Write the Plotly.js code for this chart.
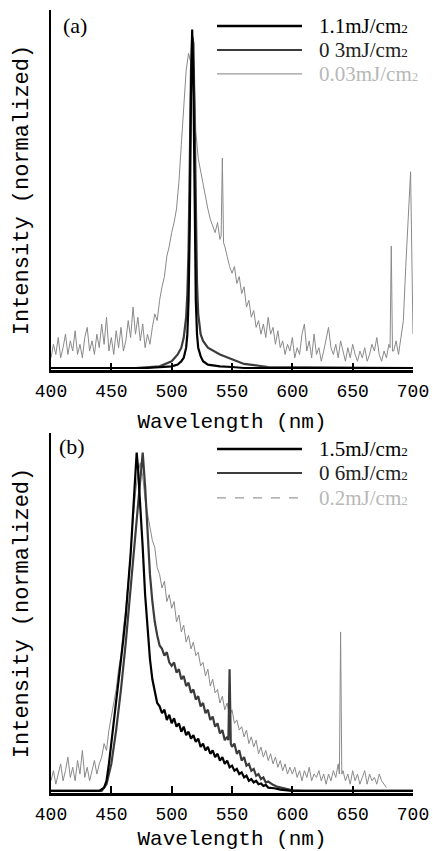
<!DOCTYPE html>
<html>
<head>
<meta charset="utf-8">
<script src="https://cdn.plot.ly/plotly-3.0.1.min.js"></script>
<style>html,body{margin:0;padding:0;background:#fff;}#chart{width:433px;height:851px;}</style>
</head>
<body>
<div id="chart"></div>
<script>
// ---------- Panel (a) ----------
const wlA1 = [400,480,500,505,508,510,512,513,514,515,516,517,518,519,520,521,522,524,526,530,540,550,560,600,700];
const a1   = [0,0,0.005,0.01,0.02,0.03,0.06,0.1,0.2,0.42,0.8,1.0,0.85,0.45,0.2,0.1,0.06,0.035,0.02,0.01,0.005,0.003,0,0,0];

const wlA2 = [400,470,490,500,505,508,510,512,513,514,515,516,517,518,519,520,521,522,524,526,530,540,550,560,580,700];
const a2   = [0,0,0.005,0.02,0.04,0.06,0.09,0.15,0.22,0.35,0.6,0.88,0.98,0.96,0.75,0.45,0.25,0.16,0.1,0.08,0.06,0.04,0.025,0.012,0.003,0];

const wlA3 = [400,402,404,406,408,410,412,414,416,418,420,422,424,426,428,430,432,434,436,438,440,442,444,446,448,450,452,454,456,458,460,462,464,466,468,470,472,474,476,478,480,482,484,486,488,490,492,494,496,498,500,502,504,506,508,510,512,514,516,518,520,522,524,526,528,530,532,534,536,538,540,541,542,543,544,546,548,550,552,554,556,558,560,562,564,566,568,570,572,574,576,578,580,582,584,586,588,590,592,594,596,598,600,602,604,606,608,610,612,614,616,618,620,622,624,626,628,630,632,634,636,638,640,642,644,646,648,650,652,654,656,658,660,662,664,666,668,670,672,674,676,678,680,681,682,683,684,686,688,690,692,694,696,698,700];
const a3   = [0.03,0.07,0.04,0.09,0.03,0.06,0.1,0.04,0.08,0.05,0.11,0.04,0.07,0.03,0.09,0.12,0.05,0.08,0.04,0.1,0.06,0.13,0.07,0.15,0.05,0.09,0.04,0.11,0.06,0.12,0.05,0.08,0.14,0.09,0.18,0.1,0.15,0.08,0.13,0.06,0.1,0.07,0.12,0.16,0.14,0.2,0.24,0.27,0.33,0.36,0.4,0.43,0.47,0.55,0.66,0.78,0.88,0.93,0.9,0.94,0.7,0.62,0.58,0.55,0.5,0.47,0.44,0.42,0.4,0.43,0.38,0.39,0.62,0.37,0.36,0.33,0.3,0.28,0.3,0.25,0.27,0.22,0.24,0.18,0.2,0.15,0.17,0.12,0.14,0.1,0.13,0.09,0.15,0.1,0.12,0.07,0.11,0.06,0.08,0.04,0.07,0.05,0.09,0.03,0.06,0.04,0.1,0.13,0.05,0.08,0.03,0.1,0.04,0.06,0.02,0.05,0.09,0.12,0.06,0.04,0.07,0.03,0.08,0.05,0.02,0.06,0.03,0.07,0.04,0.02,0.05,0.03,0.06,0.02,0.04,0.07,0.05,0.09,0.04,0.02,0.05,0.03,0.07,0.06,0.36,0.05,0.05,0.08,0.04,0.09,0.14,0.3,0.45,0.58,0.1];

// ---------- Panel (b) ----------
const wlB1 = [400,440,444,446,448,450,452,454,456,458,460,462,464,466,468,470,471,472,474,476,478,480,482,484,486,488,490,492,494,496,498,500,502,504,506,508,510,512,514,516,518,520,522,524,526,528,530,532,534,536,538,540,542,544,546,548,550,552,554,556,558,560,562,564,566,568,570,572,574,576,578,580,585,590,600,700];
const b1   = [0,0,0.01,0.03,0.08,0.14,0.2,0.26,0.32,0.38,0.45,0.52,0.6,0.7,0.82,0.95,1.0,0.96,0.85,0.72,0.58,0.47,0.39,0.33,0.29,0.26,0.25,0.23,0.24,0.21,0.225,0.2,0.215,0.19,0.2,0.175,0.19,0.165,0.175,0.155,0.165,0.145,0.155,0.13,0.14,0.12,0.13,0.11,0.12,0.1,0.11,0.09,0.1,0.08,0.09,0.07,0.075,0.06,0.065,0.05,0.055,0.04,0.045,0.03,0.035,0.025,0.03,0.02,0.022,0.015,0.018,0.01,0.008,0.004,0,0];

const wlB2 = [400,442,446,450,454,458,462,466,470,472,474,476,478,480,482,484,486,488,490,492,494,496,498,500,502,504,506,508,510,512,514,516,518,520,522,524,526,528,530,532,534,536,538,540,542,544,546,547,548,549,550,552,554,556,558,560,562,564,566,568,570,572,574,576,578,580,584,588,592,596,600,610,700];
const b2   = [0,0,0.02,0.08,0.18,0.3,0.44,0.6,0.76,0.85,0.94,1.0,0.9,0.76,0.64,0.56,0.5,0.46,0.43,0.42,0.4,0.41,0.38,0.37,0.38,0.35,0.36,0.33,0.34,0.31,0.32,0.29,0.3,0.27,0.28,0.25,0.26,0.23,0.24,0.21,0.22,0.19,0.2,0.17,0.18,0.15,0.16,0.15,0.36,0.14,0.13,0.14,0.11,0.12,0.09,0.1,0.075,0.08,0.06,0.065,0.045,0.05,0.035,0.04,0.025,0.028,0.018,0.012,0.008,0.004,0.002,0,0];

const wlB3 = [400,402,404,406,408,410,412,414,416,418,420,422,424,426,428,430,432,434,436,438,440,442,444,446,448,450,452,454,456,458,460,462,464,466,468,470,472,474,476,478,480,482,484,486,488,490,492,494,496,498,500,502,504,506,508,510,512,514,516,518,520,522,524,526,528,530,532,534,536,538,540,542,544,546,548,550,552,554,556,558,560,562,564,566,568,570,572,574,576,578,580,582,584,586,588,590,592,594,596,598,600,602,604,606,608,610,612,614,616,618,620,622,624,626,628,630,632,634,636,638,639,640,641,642,644,646,648,650,652,654,656,658,660,662,664,666,668,670,672,674,676,678];
const b3   = [0.03,0.06,0.02,0.05,0.08,0.03,0.06,0.1,0.04,0.07,0.03,0.09,0.05,0.12,0.04,0.07,0.03,0.06,0.09,0.05,0.08,0.1,0.14,0.12,0.18,0.22,0.26,0.3,0.36,0.4,0.48,0.54,0.62,0.72,0.8,0.88,0.94,0.97,0.93,0.86,0.82,0.78,0.74,0.72,0.66,0.64,0.6,0.62,0.56,0.58,0.54,0.56,0.5,0.52,0.47,0.49,0.44,0.46,0.42,0.44,0.4,0.41,0.37,0.38,0.34,0.36,0.31,0.33,0.29,0.3,0.26,0.28,0.24,0.26,0.22,0.24,0.2,0.21,0.18,0.19,0.16,0.18,0.14,0.16,0.13,0.15,0.11,0.13,0.1,0.12,0.09,0.11,0.08,0.1,0.07,0.09,0.06,0.08,0.05,0.07,0.05,0.07,0.04,0.06,0.03,0.06,0.04,0.07,0.03,0.05,0.04,0.06,0.03,0.05,0.02,0.05,0.03,0.06,0.04,0.08,0.05,0.47,0.05,0.06,0.03,0.05,0.02,0.06,0.03,0.05,0.02,0.04,0.06,0.02,0.05,0.03,0.04,0.02,0.05,0.03,0.02,0.01];

const legendA = ['1.1mJ/cm', '0 3mJ/cm', '0.03mJ/cm'];
const legendB = ['1.5mJ/cm', '0 6mJ/cm', '0.2mJ/cm'];
const xTicks = [400,450,500,550,600,650,700];

const C1 = '#000000', C2 = '#3c3c3c', C3 = '#8a8a8a';
const txtCol = ['#000000', '#222222', '#b8b8b8'];

const traces = [
  {x: wlA3, y: a3, xaxis:'x', yaxis:'y', mode:'lines', line:{color:C3, width:1}},
  {x: wlA2, y: a2, xaxis:'x', yaxis:'y', mode:'lines', line:{color:C2, width:2.2}},
  {x: wlA1, y: a1, xaxis:'x', yaxis:'y', mode:'lines', line:{color:C1, width:2.2}},
  {x: wlB3, y: b3, xaxis:'x2', yaxis:'y2', mode:'lines', line:{color:C3, width:1}},
  {x: wlB2, y: b2, xaxis:'x2', yaxis:'y2', mode:'lines', line:{color:C2, width:2.2}},
  {x: wlB1, y: b1, xaxis:'x2', yaxis:'y2', mode:'lines', line:{color:C1, width:2.2}}
];

const monoFont = 'Liberation Mono, Courier New, monospace';
const serifFont = 'Liberation Serif, Times New Roman, serif';

function xax(anchor){
  return {
    anchor: anchor, domain:[0,1], range:[400,700], tickvals: xTicks, ticktext: xTicks.map(String),
    showline:true, linecolor:'#000', linewidth:2.5, mirror:false,
    ticks:'inside', ticklen:7, tickwidth:2, tickcolor:'#000',
    showgrid:false, zeroline:false, ticklabelstandoff:3,
    tickfont:{family:monoFont, size:18, color:'#000'},
    title:{text:'Wavelength (nm)', font:{family:monoFont, size:21, color:'#000'}, standoff:12},
    automargin:false
  };
}
function yax(anchor, dom){
  return {
    anchor: anchor, domain: dom, range:[-0.006, 1.058],
    showline:true, linecolor:'#000', linewidth:2.5,
    ticks:'', showticklabels:false, showgrid:false, zeroline:false,
    title:{text:'Intensity (normalized)', font:{family:monoFont, size:22, color:'#000'}, standoff:14},
    automargin:false
  };
}

// legend geometry (paper coords)
const lx0 = 0.4586, lx1 = 0.6934, tx = 0.7348;
const rowsA = [0.9796, 0.9489, 0.9183];
const rowsB = [0.4393, 0.4087, 0.3768];
const shapes = [], annotations = [];
const lineStyles = [{color:C1,width:2.5,dash:'solid'},{color:C2,width:2,dash:'solid'},{color:'#9a9a9a',width:1.2,dash:'solid'}];
const lineStylesB = [{color:C1,width:2.5,dash:'solid'},{color:C2,width:2,dash:'solid'},{color:'#9a9a9a',width:1.2,dash:'dash'}];
function addLegend(rows, labels, styles){
  rows.forEach((yy,i)=>{
    shapes.push({type:'line', xref:'paper', yref:'paper', x0:lx0, x1:lx1, y0:yy, y1:yy, line:styles[i]});
    annotations.push({xref:'paper', yref:'paper', x:tx, y:yy, xanchor:'left', yanchor:'middle', showarrow:false,
      text: labels[i] + "<span style='font-size:13px'>2</span>",
      font:{family:serifFont, size:21, color:txtCol[i]}});
  });
}
addLegend(rowsA, legendA, lineStyles);
addLegend(rowsB, legendB, lineStylesB);
annotations.push({xref:'paper', yref:'paper', x:0.0276, y:0.9808, xanchor:'left', yanchor:'middle', showarrow:false,
  text:'(a)', font:{family:serifFont, size:22, color:'#000'}});
annotations.push({xref:'paper', yref:'paper', x:0.0166, y:0.4419, xanchor:'left', yanchor:'middle', showarrow:false,
  text:'(b)', font:{family:serifFont, size:22, color:'#000'}});

const layout = {
  width:433, height:851,
  margin:{l:51, r:20, t:10, b:58},
  paper_bgcolor:'#fff', plot_bgcolor:'#fff',
  showlegend:false,
  xaxis: xax('y'),
  yaxis: yax('x', [0.5402, 1]),
  xaxis2: xax('y2'),
  yaxis2: yax('x2', [0, 0.4598]),
  shapes: shapes,
  annotations: annotations
};

Plotly.newPlot('chart', traces, layout, {displayModeBar:false, staticPlot:true});
</script>
</body>
</html>
